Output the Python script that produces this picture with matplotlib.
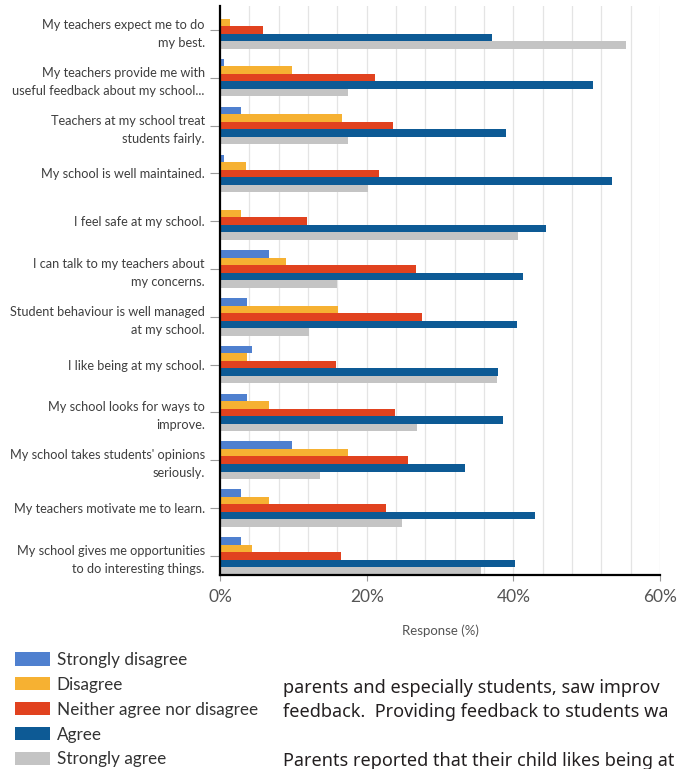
import matplotlib
matplotlib.use("Agg")
import matplotlib.pyplot as plt
import numpy as np
from matplotlib.patches import Patch

categories = [
    "My teachers expect me to do\nmy best.",
    "My teachers provide me with\nuseful feedback about my school...",
    "Teachers at my school treat\nstudents fairly.",
    "My school is well maintained.",
    "I feel safe at my school.",
    "I can talk to my teachers about\nmy concerns.",
    "Student behaviour is well managed\nat my school.",
    "I like being at my school.",
    "My school looks for ways to\nimprove.",
    "My school takes students' opinions\nseriously.",
    "My teachers motivate me to learn.",
    "My school gives me opportunities\nto do interesting things.",
]
series_names = ["Strongly disagree", "Disagree", "Neither agree nor disagree", "Agree", "Strongly agree"]
strongly_disagree = [0.0, 0.6, 2.8, 0.6, 0.0, 6.7, 3.7, 4.4, 3.7, 9.8, 2.8, 2.8]
disagree = [1.3, 9.8, 16.7, 3.5, 2.8, 9.0, 16.1, 3.7, 6.7, 17.4, 6.7, 4.4]
neither = [5.9, 21.2, 23.6, 21.7, 11.9, 26.7, 27.5, 15.8, 23.8, 25.7, 22.6, 16.5]
agree = [37.1, 50.8, 39.0, 53.5, 44.4, 41.3, 40.5, 37.9, 38.6, 33.4, 43.0, 40.2]
strongly_agree = [55.4, 17.4, 17.4, 20.2, 40.6, 16.0, 12.1, 37.8, 26.9, 13.6, 24.8, 35.6]
xticks = [0, 20, 40, 60]
xticklabels = ["0%", "20%", "40%", "60%"]

colors = ["#4f80cf", "#f6b132", "#e1421f", "#0d5a95", "#c4c4c4"]
values = [strongly_disagree, disagree, neither, agree, strongly_agree]

fig = plt.figure(figsize=(6.77, 7.69), dpi=100)
W, H = 677, 769
left, right, bottom_px, top_px = 220, 660, 575, 6
ax = fig.add_axes([left / W, 1 - bottom_px / H, (right - left) / W, (bottom_px - top_px) / H])

y = np.arange(len(categories))
h = 0.157
for k, (vals, c) in enumerate(zip(values, colors)):
    ax.barh(y + (k - 2) * h, vals, height=h, color=c, label=series_names[k], zorder=3)

ax.set_xlim(0, 60)
ax.set_ylim(11.4, -0.5)

# light vertical gridlines
for gx in np.arange(4, 61, 4):
    ax.axvline(gx, color="#e4e4e4", lw=0.9, zorder=1)

ax.set_yticks(y)
ax.set_yticklabels(categories, fontsize=9.2, color="#3f3f3f", family="Lato", linespacing=1.6)
ax.set_xticks(xticks)
ax.set_xticklabels(xticklabels, fontsize=12.5, color="#555555", family="Lato")
ax.tick_params(axis="y", length=7, width=0.8, color="#9a9a9a", pad=4)
ax.tick_params(axis="x", length=4, width=0.8, color="#9a9a9a", pad=6)
ax.set_xlabel("Response (%)", fontsize=9.5, color="#555555", family="Lato", labelpad=14)

for s in ["top", "right"]:
    ax.spines[s].set_visible(False)
ax.spines["left"].set_color("black")
ax.spines["left"].set_linewidth(1.6)
ax.spines["bottom"].set_color("black")
ax.spines["bottom"].set_linewidth(1.6)
ax.spines["left"].set_zorder(4)
ax.spines["bottom"].set_zorder(4)

handles = [Patch(facecolor=c, edgecolor="none") for c in colors]
fig.legend(handles, series_names, loc="upper left", bbox_to_anchor=(3 / W, 1 - 640 / H),
           frameon=False, prop={"family": "Lato", "size": 12.3}, handlelength=2.05,
           handleheight=0.8, handletextpad=0.4, labelspacing=0.52, borderpad=0.2,
           labelcolor="#333333")

body = dict(family="Noto Sans", fontsize=13, color="#231f20", va="center", ha="left")
fig.text(283 / W, 1 - 688 / H, "parents and especially students, saw improv", **body)
fig.text(283 / W, 1 - 712 / H, "feedback.  Providing feedback to students wa", **body)
fig.text(283 / W, 1 - 761 / H, "Parents reported that their child likes being at", **body)

fig.savefig("out.png", dpi=100)
